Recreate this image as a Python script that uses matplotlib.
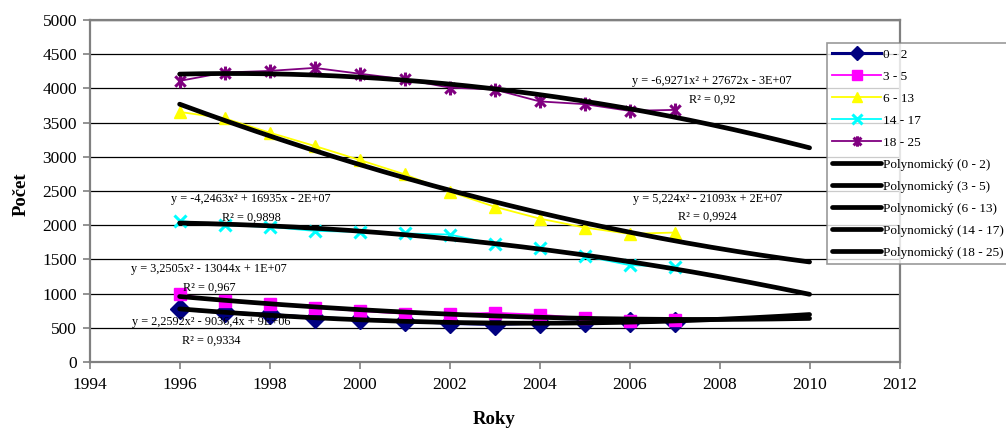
import numpy as np
import matplotlib
matplotlib.use("Agg")
import matplotlib.pyplot as plt
from matplotlib.path import Path

plt.rcParams['font.family'] = ['Liberation Serif', 'DejaVu Serif']

years = [1996, 1997, 1998, 1999, 2000, 2001, 2002, 2003, 2004, 2005, 2006, 2007]
labels = ["0 - 2", "3 - 5", "6 - 13", "14 - 17", "18 - 25"]
v_0_2 = [770, 725, 695, 650, 625, 600, 565, 548, 570, 588, 590, 592]
v_3_5 = [990, 887, 843, 794, 745, 706, 696, 720, 691, 642, 603, 613]
v_6_13 = [3656, 3563, 3354, 3159, 2954, 2744, 2490, 2270, 2097, 1966, 1874, 1893]
v_14_17 = [2063, 2000, 1976, 1917, 1903, 1879, 1864, 1723, 1660, 1549, 1417, 1393]
v_18_25 = [4110, 4232, 4256, 4300, 4215, 4134, 4012, 3984, 3810, 3770, 3672, 3686]
series = [v_0_2, v_3_5, v_6_13, v_14_17, v_18_25]
trend_end = 2010
equations = ["y = 2,2592x² - 9036,4x + 9E+06",
             "y = 3,2505x² - 13044x + 1E+07",
             "y = 5,224x² - 21093x + 2E+07",
             "y = -4,2463x² + 16935x - 2E+07",
             "y = -6,9271x² + 27672x - 3E+07"]
r2 = ["R² = 0,9334", "R² = 0,967", "R² = 0,9924", "R² = 0,9898", "R² = 0,92"]
eq_pos = [(1996.70, 591, 312), (1996.66, 1363, 1084), (2007.73, 2389, 2125),
          (1997.59, 2389, 2110), (2007.83, 4108, 3829)]

colors = ['#000080', '#FF00FF', '#FFFF00', '#00FFFF', '#800080']
star = Path([(0, -1), (0, 1), (-0.75, -0.75), (0.75, 0.75), (-0.75, 0.75), (0.75, -0.75)],
            [Path.MOVETO, Path.LINETO, Path.MOVETO, Path.LINETO, Path.MOVETO, Path.LINETO])
markers = ['D', 's', '^', 'x', star]
msizes = [10, 9, 9, 9, 10]
lws = [2.2, 1.3, 1.3, 1.3, 1.3]

fig = plt.figure(figsize=(10.06, 4.37), dpi=100)
ax = fig.add_axes([0.0891, 0.1716, 0.8051, 0.7826])

handles_d = []
for vals, lab, c, m, ms, lw in zip(series, labels, colors, markers, msizes, lws):
    h, = ax.plot(years, vals, color=c, lw=lw, marker=m, markersize=ms,
                 markerfacecolor=c, markeredgecolor=c,
                 markeredgewidth=2.2 if (m == 'x' or m is star) else 1, zorder=3, label=lab)
    handles_d.append(h)

handles_t = []
xs = np.linspace(years[0], trend_end, 200)
for vals, lab in zip(series, labels):
    p = np.polyfit(np.array(years) - 2000, vals, 2)
    h, = ax.plot(xs, np.polyval(p, xs - 2000), color='black', lw=3.4, zorder=4,
                 solid_capstyle='round', label="Polynomický (%s)" % lab)
    handles_t.append(h)

for eq, r, (x, y1, y2) in zip(equations, r2, eq_pos):
    ax.text(x, y1, eq, fontsize=8.8, ha='center', va='center', zorder=5)
    ax.text(x, y2, r, fontsize=8.8, ha='center', va='center', zorder=5)

ax.set_xlim(1994, 2012)
ax.set_ylim(0, 5000)
ax.set_xticks(range(1994, 2013, 2))
ax.set_yticks(range(0, 5001, 500))
ax.yaxis.grid(True, color='black', lw=0.9)
ax.set_axisbelow(True)
for s in ax.spines.values():
    s.set_color('#808080')
    s.set_linewidth(1.6)
ax.tick_params(axis='both', direction='out', length=5, width=1.2, color='#808080',
               labelsize=12.5, pad=4)
ax.tick_params(axis='x', pad=6)

fig.text(0.021, 0.555, "Počet", rotation=90, fontsize=13.5, fontweight='bold',
         ha='center', va='center')
fig.text(0.491, 0.04, "Roky", fontsize=13.5, fontweight='bold', ha='center', va='center')

leg = fig.legend(handles=handles_d + handles_t, loc='upper left',
                 bbox_to_anchor=(0.822, 0.9016), fontsize=9.5, handlelength=3.7,
                 handletextpad=0.12, labelspacing=0.74, borderpad=0.4,
                 borderaxespad=0, markerscale=0.75, frameon=True, fancybox=False)
leg.get_frame().set_edgecolor('#808080')
leg.get_frame().set_linewidth(1.2)

fig.savefig("out.png", dpi=100)
